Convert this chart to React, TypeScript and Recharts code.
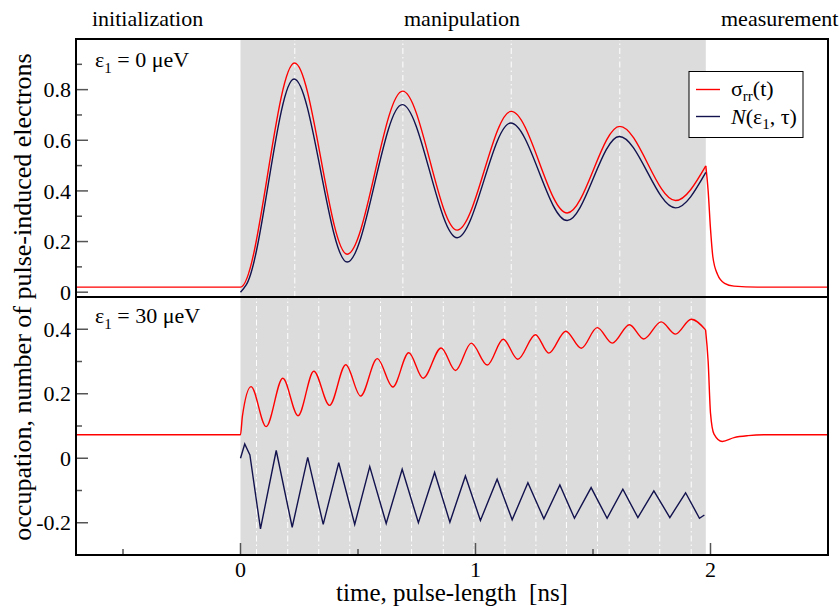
import React from "react";
import { LineChart, Line, XAxis, YAxis, ReferenceArea, ReferenceLine } from "recharts";

const FONT = '"Liberation Serif", "Times New Roman", serif';
const RED = "#ff0000";
const NAVY = "#12124e";
const TICK = "#555";

// shared time axis [ns]
const X_DOMAIN = [-0.7, 2.5];
const X_TICKS = [-0.5, 0, 0.5, 1, 1.5, 2];
const X_MAJOR = [0, 1, 2];
const PULSE_START = 0;
const PULSE_END = 1.98;

// top panel, eps1 = 0 ueV (peaks / troughs)
const TOP_Y_DOMAIN = [-0.019, 1.0];
const TOP_Y_TICKS = [0, 0.1, 0.2, 0.3, 0.4, 0.5, 0.6, 0.7, 0.8, 0.9];
const TOP_Y_MAJOR = [0, 0.2, 0.4, 0.6, 0.8];
const topMarks = [0.231, 0.691, 1.152, 1.614];

const topRedT = [-0.7, 0, 0.23, 0.454, 0.69, 0.922, 1.152, 1.39, 1.614, 1.851, 1.98];
const topRedV = [0.02, 0.02, 0.905, 0.15, 0.794, 0.245, 0.714, 0.313, 0.655, 0.362, 0.499];
const topRedTailT = [1.98, 1.99, 2.0, 2.01, 2.03, 2.06, 2.1, 2.2, 2.5];
const topRedTailV = [0.499, 0.4, 0.25, 0.14, 0.07, 0.035, 0.024, 0.02, 0.02];

const topNavyT = [0, 0.025, 0.228, 0.454, 0.688, 0.922, 1.15, 1.39, 1.612, 1.851, 1.98];
const topNavyV = [0, 0.03, 0.842, 0.119, 0.741, 0.215, 0.668, 0.283, 0.615, 0.333, 0.473];

// bottom panel, eps1 = 30 ueV
const BOT_Y_DOMAIN = [-0.3, 0.5];
const BOT_Y_TICKS = [-0.2, -0.1, 0, 0.1, 0.2, 0.3, 0.4];
const BOT_Y_MAJOR = [-0.2, 0, 0.2, 0.4];
const botMarks = [0.068, 0.201, 0.333, 0.465, 0.596, 0.728, 0.863, 0.993, 1.125, 1.257, 1.387, 1.519, 1.654, 1.784, 1.918];

const botRedT = [-0.7, 0, 0.008, 0.045, 0.109, 0.18, 0.245, 0.312, 0.379, 0.448, 0.511, 0.582, 0.648, 0.716, 0.777, 0.854, 0.915, 0.982, 1.05, 1.118, 1.18, 1.255, 1.312, 1.384, 1.45, 1.518, 1.582, 1.655, 1.716, 1.79, 1.851, 1.918, 1.979];
const botRedV = [0.073, 0.073, 0.13, 0.222, 0.098, 0.248, 0.132, 0.27, 0.164, 0.29, 0.193, 0.309, 0.221, 0.327, 0.248, 0.342, 0.272, 0.357, 0.289, 0.369, 0.307, 0.383, 0.326, 0.394, 0.341, 0.405, 0.357, 0.414, 0.37, 0.423, 0.385, 0.431, 0.398];
const botRedTailT = [1.979, 1.99, 2.0, 2.015, 2.05, 2.1, 2.16, 2.25, 2.5];
const botRedTailV = [0.398, 0.3, 0.14, 0.075, 0.052, 0.064, 0.07, 0.073, 0.073];

const botNavyT = [0, 0.018, 0.04, 0.085, 0.152, 0.22, 0.286, 0.352, 0.418, 0.486, 0.55, 0.62, 0.688, 0.757, 0.826, 0.891, 0.957, 1.021, 1.092, 1.156, 1.223, 1.291, 1.359, 1.421, 1.492, 1.56, 1.627, 1.691, 1.759, 1.827, 1.894, 1.953, 1.974];
const botNavyV = [0, 0.044, 0.01, -0.219, 0.024, -0.214, 0.003, -0.205, -0.014, -0.205, -0.026, -0.202, -0.034, -0.2, -0.044, -0.198, -0.055, -0.193, -0.065, -0.191, -0.076, -0.188, -0.083, -0.186, -0.091, -0.186, -0.096, -0.184, -0.101, -0.184, -0.107, -0.186, -0.176];

const zip = (t: number[], v: number[]) => t.map((x, i) => ({ t: x, v: v[i] }));
const isIn = (list: number[], v: number) => list.some(m => Math.abs(m - v) < 1e-6);
const fmt = (v: number) => (Math.abs(v) < 1e-9 ? "0" : String(v));

// inward ticks, long for majors, short for minors
const tickFor = (side: string, majors: number[], labels: boolean) => (p: any) => {
  const v = p.payload.value;
  const major = isIn(majors, v);
  const len = major ? 12 : 6;
  const { x, y } = p;
  let line;
  if (side === "left") line = <line x1={x} x2={x + len} y1={y} y2={y} />;
  else if (side === "right") line = <line x1={x} x2={x - len} y1={y} y2={y} />;
  else if (side === "top") line = <line x1={x} x2={x} y1={y} y2={y + len} />;
  else line = <line x1={x} x2={x} y1={y} y2={y - len} />;
  return (
    <g stroke={TICK} strokeWidth={1.5}>
      {line}
      {labels && major && side === "left" && (
        <text x={x - 5} y={y} dy="0.35em" textAnchor="end" fontSize={22} fontFamily={FONT} fill="#000" stroke="none">{fmt(v)}</text>
      )}
      {labels && major && side === "bottom" && (
        <text x={x} y={y + 22} textAnchor="middle" fontSize={22} fontFamily={FONT} fill="#000" stroke="none">{fmt(v)}</text>
      )}
    </g>
  );
};

function Panel(props: any) {
  const { height, marginTop, marginBottom, xHeight, yDomain, yTicks, yMajor, marks, series, bottomLabels, topTicks } = props;
  return (
    <LineChart width={839} height={height} margin={{ top: marginTop, right: 11, bottom: marginBottom, left: 16 }}>
      <XAxis xAxisId="x" type="number" dataKey="t" domain={X_DOMAIN} ticks={X_TICKS} interval={0}
        allowDataOverflow orientation="bottom" height={xHeight} tickSize={0} tickMargin={0} tickLine={false}
        axisLine={false} tick={tickFor("bottom", X_MAJOR, bottomLabels)} />
      <XAxis xAxisId="xt" type="number" dataKey="t" domain={X_DOMAIN} ticks={X_TICKS} interval={0}
        allowDataOverflow orientation="top" height={0} tickSize={0} tickMargin={0} tickLine={false}
        axisLine={false} tick={topTicks ? tickFor("top", X_MAJOR, false) : false} />
      <YAxis yAxisId="y" type="number" domain={yDomain} ticks={yTicks} interval={0} allowDataOverflow
        width={60} tickSize={0} tickMargin={0} tickLine={false} axisLine={false}
        tick={tickFor("left", yMajor, true)} />
      <YAxis yAxisId="yr" type="number" domain={yDomain} ticks={yTicks} interval={0} allowDataOverflow
        orientation="right" width={0} tickSize={0} tickMargin={0} tickLine={false} axisLine={false}
        tick={tickFor("right", yMajor, false)} />
      <ReferenceArea xAxisId="x" yAxisId="y" x1={PULSE_START} x2={PULSE_END} y1={yDomain[0]} y2={yDomain[1]}
        fill="#dcdcdc" fillOpacity={1} stroke="none" />
      {marks.map((m: number) => (
        <ReferenceLine key={m} xAxisId="x" yAxisId="y" x={m} stroke="#fff" strokeWidth={1} strokeDasharray="6 3 1.5 3" />
      ))}
      {series.map((s: any, i: number) => (
        <Line key={i} xAxisId="x" yAxisId="y" data={s.data} dataKey="v" type={s.type} stroke={s.color}
          strokeWidth={1.4} dot={false} isAnimationActive={false} />
      ))}
    </LineChart>
  );
}

export default function App() {
  const topSeries = [
    { data: zip(topRedT, topRedV), color: RED, type: "monotone" },
    { data: zip(topRedTailT, topRedTailV), color: RED, type: "monotone" },
    { data: zip(topNavyT, topNavyV), color: NAVY, type: "monotone" },
  ];
  const botSeries = [
    { data: zip(botRedT, botRedV), color: RED, type: "monotone" },
    { data: zip(botRedTailT, botRedTailV), color: RED, type: "monotone" },
    { data: zip(botNavyT, botNavyV), color: NAVY, type: "linear" },
  ];
  const txt = { fontFamily: FONT, fill: "#000" };
  return (
    <div style={{ position: "absolute", left: 0, top: 0, width: 839, height: 607, background: "#fff" }}>
      <div style={{ position: "absolute", left: 0, top: 0 }}>
        <Panel height={306} marginTop={39} marginBottom={9} xHeight={0} yDomain={TOP_Y_DOMAIN} yTicks={TOP_Y_TICKS}
          yMajor={TOP_Y_MAJOR} marks={topMarks} series={topSeries} bottomLabels={false} topTicks={true} />
      </div>
      <div style={{ position: "absolute", left: 0, top: 0 }}>
        <Panel height={607} marginTop={297} marginBottom={0} xHeight={52} yDomain={BOT_Y_DOMAIN} yTicks={BOT_Y_TICKS}
          yMajor={BOT_Y_MAJOR} marks={botMarks} series={botSeries} bottomLabels={true} topTicks={false} />
      </div>
      <svg width={839} height={607} style={{ position: "absolute", left: 0, top: 0, pointerEvents: "none" }}>
        {/* panel frames */}
        <rect x={76} y={39} width={752} height={258} fill="none" stroke="#000" strokeWidth={2} />
        <rect x={76} y={297} width={752} height={258} fill="none" stroke="#000" strokeWidth={2} />
        <g {...txt} fontSize={22}>
          <text x={92} y={26}>initialization</text>
          <text x={404} y={26}>manipulation</text>
          <text x={721} y={26}>measurement</text>
          <text x={95} y={67}>ε<tspan fontSize={15} dy={6}>1</tspan><tspan dy={-6}> = 0 μeV</tspan></text>
          <text x={95} y={323}>ε<tspan fontSize={15} dy={6}>1</tspan><tspan dy={-6}> = 30 μeV</tspan></text>
        </g>
        <g>
          <rect x={689} y={71.5} width={114} height={66} fill="#fff" stroke="#000" strokeWidth={1} />
          <line x1={696} x2={720} y1={89.5} y2={89.5} stroke={RED} strokeWidth={1.4} />
          <line x1={696} x2={720} y1={116.5} y2={116.5} stroke={NAVY} strokeWidth={1.4} />
          <text {...txt} fontSize={22} x={731} y={96}>σ<tspan fontSize={15} dy={5}>rr</tspan><tspan dy={-5}>(t)</tspan></text>
          <text {...txt} fontSize={22} x={731} y={124}><tspan fontStyle="italic">N</tspan>(ε<tspan fontSize={15} dy={5}>1</tspan><tspan dy={-5}>, τ)</tspan></text>
        </g>
        <text {...txt} fontSize={25} x={452} y={601} textAnchor="middle" style={{ whiteSpace: "pre" }}>time, pulse-length  [ns]</text>
        <text {...txt} fontSize={26} textAnchor="middle" transform="translate(31 297) rotate(-90)">occupation, number of pulse-induced electrons</text>
      </svg>
    </div>
  );
}
